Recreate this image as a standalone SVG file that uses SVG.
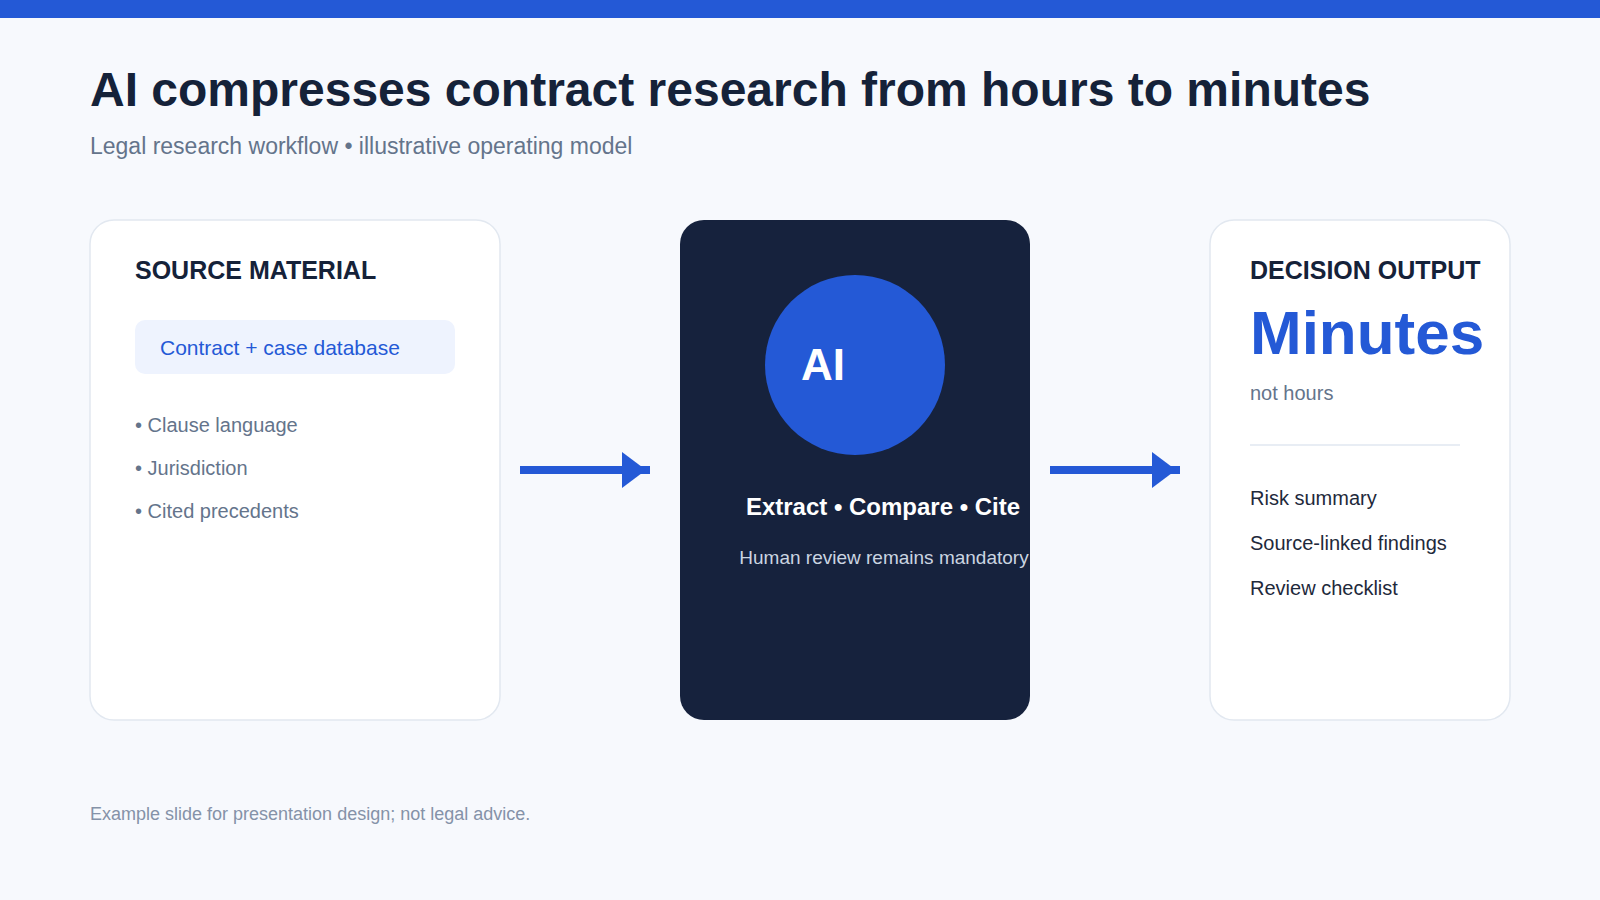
<svg xmlns="http://www.w3.org/2000/svg" width="1600" height="900" viewBox="0 0 1600 900">
<style>
text{font-family:"Liberation Sans",Arial,Helvetica,sans-serif}
.card{fill:#ffffff;stroke:#e2e8f0;stroke-width:1.5}
.head{font-size:25px;font-weight:700;fill:#152239}
.bul{font-size:20px;fill:#64748b}
.item{font-size:20px;fill:#1e293b}
.conn{stroke:#2459d6;stroke-width:8;fill:none}
</style>
<defs>
<marker id="ah" markerUnits="userSpaceOnUse" markerWidth="28" markerHeight="36" refX="28" refY="18" orient="auto" viewBox="0 0 28 36">
<path d="M0,0 L24,18 L0,36 Z" fill="#2459d6"/>
</marker>
</defs>
<rect x="0" y="0" width="1600" height="900" fill="#f7f9fd"/>
<rect x="0" y="0" width="1600" height="18" fill="#2459d6"/>
<text x="90" y="106" font-size="48" font-weight="700" fill="#152239">AI compresses contract research from hours to minutes</text>
<text x="90" y="154" font-size="23" fill="#64748b">Legal research workflow • illustrative operating model</text>

<g id="source">
<rect class="card" x="90" y="220" width="410" height="500" rx="24"/>
<text class="head" x="135" y="279">SOURCE MATERIAL</text>
<rect x="135" y="320" width="320" height="54" rx="10" fill="#eef3fe"/>
<text x="160" y="355" font-size="21" fill="#2459d6">Contract + case database</text>
<text class="bul" x="135" y="432">• Clause language</text>
<text class="bul" x="135" y="475">• Jurisdiction</text>
<text class="bul" x="135" y="518">• Cited precedents</text>
</g>

<g id="ai">
<rect x="680" y="220" width="350" height="500" rx="24" fill="#16223d"/>
<circle cx="855" cy="365" r="90" fill="#2459d6"/>
<text x="801" y="380" font-size="44" font-weight="700" fill="#ffffff">AI</text>
<text x="883" y="515" font-size="24" font-weight="700" fill="#ffffff" text-anchor="middle">Extract • Compare • Cite</text>
<text x="884" y="564" font-size="19" fill="#cbd5e1" text-anchor="middle">Human review remains mandatory</text>
</g>

<g id="output">
<rect class="card" x="1210" y="220" width="300" height="500" rx="24"/>
<text class="head" x="1250" y="279">DECISION OUTPUT</text>
<text x="1250" y="354" font-size="62" font-weight="700" fill="#2459d6">Minutes</text>
<text x="1250" y="400" font-size="20" fill="#64748b">not hours</text>
<line x1="1250" y1="445" x2="1460" y2="445" stroke="#e8edf4" stroke-width="2"/>
<text class="item" x="1250" y="505">Risk summary</text>
<text class="item" x="1250" y="550">Source-linked findings</text>
<text class="item" x="1250" y="595">Review checklist</text>
</g>

<g id="connectors">
<line class="conn" x1="520" y1="470" x2="650" y2="470" marker-end="url(#ah)"/>
<line class="conn" x1="1050" y1="470" x2="1180" y2="470" marker-end="url(#ah)"/>
</g>

<text x="90" y="820" font-size="18" fill="#8592a8">Example slide for presentation design; not legal advice.</text>
</svg>
